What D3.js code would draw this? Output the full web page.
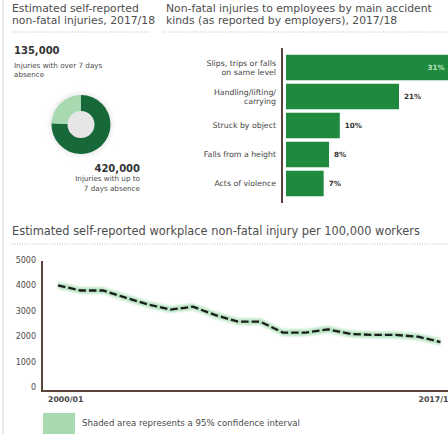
<!DOCTYPE html>
<html>
<head>
<meta charset="utf-8">
<script src="https://cdn.jsdelivr.net/npm/d3@7"></script>
<style>
  html, body { margin: 0; padding: 0; background: #fff; }
  svg { display: block; font-family: "DejaVu Sans", sans-serif; }
</style>
</head>
<body>
<svg id="chart" width="448" height="434"></svg>
<script>
// Self-reported injuries split by length of absence, 2017/18
const absenceLabels = ["Injuries with up to 7 days absence", "Injuries with over 7 days absence"];
const absenceValues = [420000, 135000];

// Employer-reported non-fatal injuries by accident kind, 2017/18 (% share)
const accidentKinds = [
  ["Slips, trips or falls", "on same level"],
  ["Handling/lifting/", "carrying"],
  ["Struck by object"],
  ["Falls from a height"],
  ["Acts of violence"]
];
const accidentShares = [31, 21, 10, 8, 7];

// Self-reported workplace non-fatal injury rate per 100,000 workers
const years = ["2000/01","2001/02","2002/03","2003/04","2004/05","2005/06","2006/07","2007/08","2008/09",
               "2009/10","2010/11","2011/12","2012/13","2013/14","2014/15","2015/16","2016/17","2017/18"];
const injuryRate = [4000, 3800, 3800, 3520, 3250, 3050, 3160, 2830, 2570,
                    2570, 2140, 2140, 2270, 2090, 2050, 2050, 1980, 1770];
const rateLower  = [3870, 3670, 3670, 3390, 3120, 2920, 3030, 2700, 2440,
                    2440, 2010, 2010, 2140, 1960, 1920, 1920, 1850, 1640];
const rateUpper  = [4130, 3930, 3930, 3650, 3380, 3180, 3290, 2960, 2700,
                    2700, 2270, 2270, 2400, 2220, 2180, 2180, 2110, 1900];
const rateTicks = [0, 1000, 2000, 3000, 4000, 5000];

const svg = d3.select("#chart");
const darkGreen = "#17693a", lightGreen = "#a8dab2", barGreen = "#1f8a3d";
const axisBrown = "#5b433b", titleGrey = "#4d4d4d", textGrey = "#4a4a4a";

// faint page rule on the left edge
svg.append("line").attr("x1", 3).attr("x2", 3).attr("y1", 0).attr("y2", 434)
  .attr("stroke", "#e2e2e2").attr("stroke-width", 1.5);

// ---------- section titles ----------
function title(x, y, lines, size) {
  const t = svg.append("text").attr("x", x).attr("y", y)
    .attr("fill", titleGrey).attr("font-size", size);
  lines.forEach((l, i) => t.append("tspan").attr("x", x).attr("dy", i ? 11.5 : 0).text(l));
}
title(12, 12, ["Estimated self-reported", "non-fatal injuries, 2017/18"], 10.8);
title(166, 12, ["Non-fatal injuries to employees by main accident", "kinds (as reported by employers), 2017/18"], 10.8);
title(12, 235, ["Estimated self-reported workplace non-fatal injury per 100,000 workers"], 11.4);

function dotted(x1, x2, y) {
  svg.append("line").attr("x1", x1).attr("x2", x2).attr("y1", y).attr("y2", y)
    .attr("stroke", "#b9b9b9").attr("stroke-width", 1).attr("stroke-dasharray", "1,1.5");
}
dotted(12, 150, 32);
dotted(163, 448, 32);
dotted(12, 448, 244);

// ---------- donut ----------
const defs = svg.append("defs");
defs.append("filter").attr("id", "soft").attr("x", "-50%").attr("y", "-50%").attr("width", "200%").attr("height", "200%")
  .append("feGaussianBlur").attr("stdDeviation", 2.5);
defs.append("filter").attr("id", "halo").attr("x", "-10%").attr("y", "-50%").attr("width", "120%").attr("height", "200%")
  .append("feGaussianBlur").attr("stdDeviation", 0.9);

const pie = d3.pie().sort(null).value(d => d);
const arc = d3.arc().innerRadius(13.5).outerRadius(29.5);
const donut = svg.append("g").attr("transform", "translate(81,124.5)");
donut.append("circle").attr("r", 31).attr("fill", "#e6e6e6").attr("filter", "url(#soft)");
donut.selectAll("path").data(pie(absenceValues)).join("path")
  .attr("d", arc).attr("fill", (d, i) => i === 0 ? darkGreen : lightGreen);

const fmt = d3.format(",");
svg.append("text").attr("x", 14).attr("y", 54).attr("font-size", 10).attr("font-weight", "bold")
  .attr("fill", "#333").text(fmt(absenceValues[1]));
const over = svg.append("text").attr("x", 14).attr("y", 67.5).attr("font-size", 7.2).attr("fill", textGrey);
over.append("tspan").attr("x", 14).text("Injuries with over 7 days");
over.append("tspan").attr("x", 14).attr("dy", 9.5).text("absence");

svg.append("text").attr("x", 140).attr("y", 171.5).attr("font-size", 10).attr("font-weight", "bold")
  .attr("text-anchor", "end").attr("fill", "#333").text(fmt(absenceValues[0]));
const upto = svg.append("text").attr("x", 140).attr("y", 181).attr("font-size", 7.2)
  .attr("text-anchor", "end").attr("fill", textGrey);
upto.append("tspan").attr("x", 140).text("Injuries with up to");
upto.append("tspan").attr("x", 140).attr("dy", 9.5).text("7 days absence");

// ---------- horizontal bars ----------
const bx = d3.scaleLinear().domain([0, 31]).range([286, 452.8]);
const by = d3.scaleBand().domain(d3.range(accidentShares.length)).range([53, 198])
  .paddingInner(0.12).paddingOuter(0.06);

svg.selectAll("rect.bar").data(accidentShares).join("rect").attr("class", "bar")
  .attr("x", bx(0)).attr("y", (d, i) => by(i))
  .attr("width", d => bx(d) - bx(0)).attr("height", by.bandwidth())
  .attr("fill", barGreen);

svg.append("line").attr("x1", 282).attr("x2", 282).attr("y1", 48).attr("y2", 203)
  .attr("stroke", axisBrown).attr("stroke-width", 2);

svg.selectAll("text.val").data(accidentShares).join("text").attr("class", "val")
  .attr("x", (d, i) => i === 0 ? bx(d) - 8 : bx(d) + 5)
  .attr("y", (d, i) => by(i) + by.bandwidth() / 2)
  .attr("dy", "0.35em").attr("font-size", 7.2).attr("font-weight", "bold")
  .attr("text-anchor", (d, i) => i === 0 ? "end" : "start")
  .attr("fill", (d, i) => i === 0 ? "#b9e2c2" : "#333")
  .text(d => d + "%");

svg.selectAll("text.cat").data(accidentKinds).join("text").attr("class", "cat")
  .attr("font-size", 7.8).attr("fill", "#444").attr("text-anchor", "end")
  .each(function(lines, i) {
    const cy = by(i) + by.bandwidth() / 2;
    const t = d3.select(this);
    lines.forEach((l, j) => t.append("tspan").attr("x", 276)
      .attr("y", cy + (j - (lines.length - 1) / 2) * 9.2).attr("dy", "0.35em").text(l));
  });

// ---------- injury rate line ----------
const x = d3.scalePoint().domain(years).range([58, 440.5]);
const y = d3.scaleLinear().domain([0, 5000]).range([387, 260]);

const band = d3.area().x((d, i) => x(years[i])).y0((d, i) => y(rateLower[i])).y1((d, i) => y(rateUpper[i]));
svg.append("path").datum(injuryRate).attr("d", band)
  .attr("fill", "#b8e4c1").attr("filter", "url(#halo)");

const line = d3.line().x((d, i) => x(years[i])).y(d => y(d));
svg.append("path").datum(injuryRate).attr("d", line)
  .attr("fill", "none").attr("stroke", "#1d1d1d").attr("stroke-width", 2.3)
  .attr("stroke-dasharray", "7.5,3");

const yAxis = svg.append("g").attr("transform", "translate(42,0)")
  .call(d3.axisLeft(y).tickValues(rateTicks).tickSize(0).tickPadding(6).tickFormat(d3.format("d")));
yAxis.select(".domain").remove();
yAxis.selectAll("text").attr("font-size", 8).attr("fill", textGrey).attr("font-family", "DejaVu Sans");

svg.append("line").attr("x1", 42).attr("x2", 42).attr("y1", 261).attr("y2", 392)
  .attr("stroke", axisBrown).attr("stroke-width", 2);
svg.append("line").attr("x1", 41).attr("x2", 448).attr("y1", 391).attr("y2", 391)
  .attr("stroke", axisBrown).attr("stroke-width", 2);

svg.append("text").attr("x", x(years[0]) - 10).attr("y", 401.5).attr("font-size", 7.8)
  .attr("font-weight", "bold").attr("fill", "#444").text(years[0]);
svg.append("text").attr("x", x(years[years.length - 1]) - 22).attr("y", 401.5).attr("font-size", 7.8)
  .attr("font-weight", "bold").attr("fill", "#444").text(years[years.length - 1]);

// legend
svg.append("rect").attr("x", 43).attr("y", 413).attr("width", 32).attr("height", 21).attr("fill", lightGreen);
svg.append("text").attr("x", 82).attr("y", 426).attr("font-size", 8.6).attr("fill", textGrey)
  .text("Shaded area represents a 95% confidence interval");
</script>
</body>
</html>
